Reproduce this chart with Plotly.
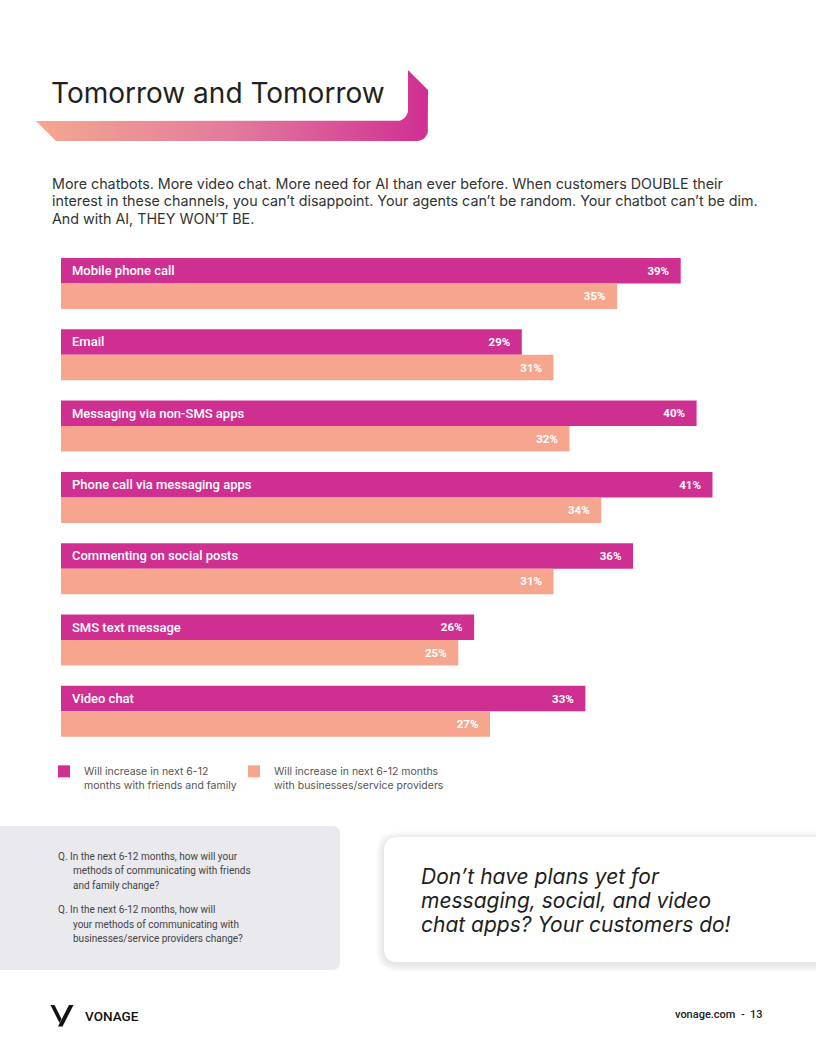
import math
import plotly.graph_objects as go

# ---------------- data ----------------
categories = [
    "Mobile phone call",
    "Email",
    "Messaging via non-SMS apps",
    "Phone call via messaging apps",
    "Commenting on social posts",
    "SMS text message",
    "Video chat",
]
friends_family = [39, 29, 40, 41, 36, 26, 33]
business = [35, 31, 32, 34, 31, 25, 27]
series_names = [
    "Will increase in next 6-12<br>months with friends and family",
    "Will increase in next 6-12 months<br>with businesses/service providers",
]

title_text = "Tomorrow and Tomorrow"
subtitle_lines = [
    "More chatbots. More video chat. More need for AI than ever before. When customers DOUBLE their",
    "interest in these channels, you can\u2019t disappoint. Your agents can\u2019t be random. Your chatbot can\u2019t be dim.",
    "And with AI, THEY WON\u2019T BE.",
]
question_1 = ["Q. In the next 6-12 months, how will your",
              "methods of communicating with friends",
              "and family change?"]
question_2 = ["Q. In the next 6-12 months, how will",
              "your methods of communicating with",
              "businesses/service providers change?"]
quote_lines = ["Don\u2019t have plans yet for",
               "messaging, social, and video",
               "chat apps? Your customers do!"]

MAGENTA = "#D02F92"
PEACH = "#F6A68E"
W, H = 816, 1056


def rounded_path(x0, y0, x1, y1, r, tl=True, tr=True, br=True, bl=True):
    p = []
    p.append(f"M{x0 + (r if tl else 0)},{y0}")
    p.append(f"L{x1 - (r if tr else 0)},{y0}")
    if tr:
        p.append(f"Q{x1},{y0} {x1},{y0 + r}")
    p.append(f"L{x1},{y1 - (r if br else 0)}")
    if br:
        p.append(f"Q{x1},{y1} {x1 - r},{y1}")
    p.append(f"L{x0 + (r if bl else 0)},{y1}")
    if bl:
        p.append(f"Q{x0},{y1} {x0},{y1 - r}")
    p.append(f"L{x0},{y0 + (r if tl else 0)}")
    if tl:
        p.append(f"Q{x0},{y0} {x0 + r},{y0}")
    p.append("Z")
    return " ".join(p)


def arc(cx, cy, r, a0, a1, n=8):
    pts = []
    for i in range(n + 1):
        a = math.radians(a0 + (a1 - a0) * i / n)
        pts.append((cx + r * math.cos(a), cy + r * math.sin(a)))
    return pts


fig = go.Figure()

# ---------------- bars ----------------
label_font = dict(color="white", size=11.5, family="Roboto", weight=700)
fig.add_trace(go.Bar(
    y=categories, x=friends_family, orientation="h", name=series_names[0],
    marker=dict(color=MAGENTA, line=dict(width=0)),
    texttemplate="%{x}%\u00a0\u00a0\u00a0", textposition="inside", insidetextanchor="end",
    textfont=label_font, hoverinfo="skip", legend="legend",
))
fig.add_trace(go.Bar(
    y=categories, x=business, orientation="h", name=series_names[1],
    marker=dict(color=PEACH, line=dict(width=0)),
    texttemplate="%{x}%\u00a0\u00a0\u00a0", textposition="inside", insidetextanchor="end",
    textfont=label_font, hoverinfo="skip", legend="legend2",
))

# category labels inside the magenta bars
for c in categories:
    fig.add_annotation(
        x=0, y=c, xref="x", yref="y", text=c, showarrow=False,
        xanchor="left", yanchor="middle", xshift=9, yshift=13,
        font=dict(family="Roboto", size=13, color="white", weight=500),
    )

# ---------------- title band (gradient) ----------------
r = 11
pts = [(36, 121), (408 - r, 121)]
pts += arc(408 - r, 121 - r, r, 90, 0)
pts += [(408, 70), (428, 90)]
pts += arc(428 - r, 141 - r, r, 0, 90)
pts += [(56, 141), (36, 121)]
fig.add_trace(go.Scatter(
    x=[p[0] for p in pts], y=[p[1] for p in pts], xaxis="x2", yaxis="y2",
    mode="lines", fill="toself", line=dict(width=0, color="rgba(0,0,0,0)"),
    fillgradient=dict(type="horizontal",
                      colorscale=[[0, "#F5A890"], [0.5, "#E27B9C"], [1, "#D02F92"]]),
    hoverinfo="skip", showlegend=False,
))

shapes = []
# grey question box
shapes.append(dict(type="path", xref="x2", yref="y2",
                   path=rounded_path(-20, 826, 340, 970, 8, tl=False, bl=False),
                   fillcolor="#E9E9EE", line=dict(width=0), layer="below"))
# soft shadow for quote box
for i in range(1, 9):
    shapes.append(dict(type="path", xref="x2", yref="y2",
                       path=rounded_path(384 - i, 837 - i + 2, 850 + i, 962 + i + 2, 14 + i),
                       fillcolor="rgba(0,0,0,0.012)", line=dict(width=0), layer="below"))
shapes.append(dict(type="path", xref="x2", yref="y2",
                   path=rounded_path(384, 837, 850, 962, 14),
                   fillcolor="white", line=dict(width=0), layer="below"))
# Vonage logo mark
shapes.append(dict(type="path", xref="x2", yref="y2",
                   path="M50.5,1005 L54.5,1005 L61.5,1019 L59.5,1023 Z",
                   fillcolor="#111111", line=dict(width=0)))
shapes.append(dict(type="path", xref="x2", yref="y2",
                   path="M69,1005 L73.5,1005 L62.5,1026.5 L58,1026.5 Z",
                   fillcolor="#111111", line=dict(width=0)))

ann = []
ann.append(dict(x=49, y=93, text=title_text, xanchor="left", yanchor="middle",
                font=dict(family="Inter", size=28, color="#231F20")))
for i, line in enumerate(subtitle_lines):
    ann.append(dict(x=50, y=183.5 + i * 17.5, text=line, xanchor="left", yanchor="middle",
                    font=dict(family="Inter", size=14.3, color="#333333")))
qfont = dict(family="Roboto", size=10, color="#444444")
for j, q in enumerate([question_1, question_2]):
    y0 = 856 if j == 0 else 909.5
    for i, line in enumerate(q):
        ann.append(dict(x=56 if i == 0 else 71, y=y0 + i * 14.7, text=line,
                        xanchor="left", yanchor="middle", font=qfont))
for i, line in enumerate(quote_lines):
    ann.append(dict(x=419, y=876 + i * 24, text=f"<i>{line}</i>", xanchor="left", yanchor="middle",
                    font=dict(family="Inter", size=21, color="#1E1E1E")))
ann.append(dict(x=83, y=1015.5, text="VONAGE", xanchor="left", yanchor="middle",
                font=dict(family="Roboto", size=13.5, color="#111111", weight=500)))
ann.append(dict(x=765, y=1014.5, text="vonage.com  -  13", xanchor="right", yanchor="middle",
                font=dict(family="Roboto", size=11, color="#222222", weight=500)))
for a in ann:
    a.update(xref="x2", yref="y2", showarrow=False)
    fig.add_annotation(**a)

# ---------------- layout ----------------
px_per_pct = 15.89
x_max = 45
x0_px = 61
period = 71.3
first_center = 283.5
y_top = first_center - period / 2
y_bot = y_top + period * len(categories)

legend_common = dict(orientation="h", yanchor="top", xanchor="left",
                     font=dict(family="Inter", size=10.5, color="#555555"),
                     valign="top", bgcolor="rgba(0,0,0,0)")

fig.update_layout(
    width=W, height=H, autosize=False,
    margin=dict(l=0, r=0, t=0, b=0, pad=0),
    paper_bgcolor="white", plot_bgcolor="rgba(0,0,0,0)",
    barmode="group", bargap=0.285, bargroupgap=0,
    shapes=shapes,
    showlegend=True,
    legend=dict(x=44 / W, y=1 - 758 / H, **legend_common),
    legend2=dict(x=234 / W, y=1 - 758 / H, **legend_common),
    xaxis=dict(domain=[x0_px / W, (x0_px + px_per_pct * x_max) / W], range=[0, x_max],
               visible=False, fixedrange=True),
    yaxis=dict(domain=[1 - y_bot / H, 1 - y_top / H], autorange="reversed",
               visible=False, fixedrange=True, categoryorder="array", categoryarray=categories),
    xaxis2=dict(domain=[0, 1], range=[0, W], visible=False, anchor="y2", fixedrange=True),
    yaxis2=dict(domain=[0, 1], range=[H, 0], visible=False, anchor="x2", fixedrange=True),
)

fig.write_html("out.html", config={"displayModeBar": False},
               post_script="document.body.style.margin='0';document.body.style.overflow='hidden';")
